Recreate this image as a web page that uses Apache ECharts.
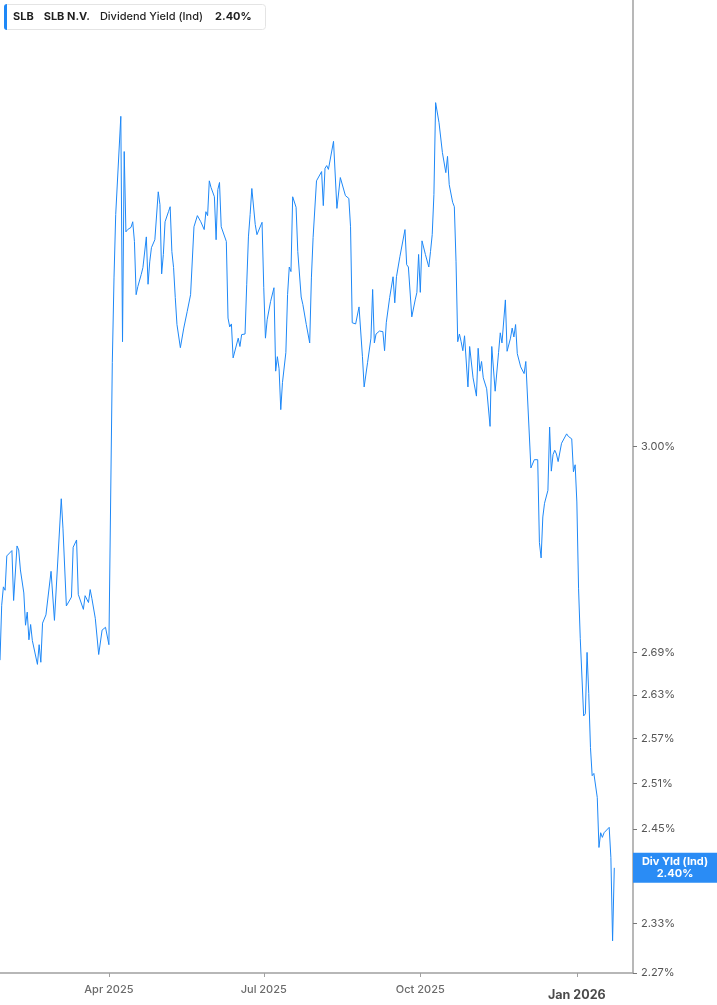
<!DOCTYPE html>
<html>
<head>
<meta charset="utf-8">
<script src="https://cdn.jsdelivr.net/npm/echarts@6/dist/echarts.min.js"></script>
<style>
html,body{margin:0;padding:0;background:#fff;}
#chart{width:717px;height:1005px;}
</style>
</head>
<body>
<div id="chart"></div>
<script>
const dates = [
'2025-01-27','2025-01-28','2025-01-29','2025-01-30','2025-01-31','2025-02-03','2025-02-04','2025-02-06','2025-02-07','2025-02-08',
'2025-02-10','2025-02-11','2025-02-12','2025-02-13','2025-02-14','2025-02-15','2025-02-18','2025-02-19','2025-02-20','2025-02-21',
'2025-02-23','2025-02-26','2025-02-28','2025-03-04','2025-03-05','2025-03-07','2025-03-10','2025-03-11','2025-03-13','2025-03-14',
'2025-03-17','2025-03-18','2025-03-19','2025-03-20','2025-03-21','2025-03-22','2025-03-24','2025-03-26','2025-03-28','2025-03-30',
'2025-04-01','2025-04-02','2025-04-03','2025-04-04','2025-04-05','2025-04-08','2025-04-09','2025-04-10','2025-04-11','2025-04-12',
'2025-04-14','2025-04-15','2025-04-16','2025-04-17','2025-04-18','2025-04-20','2025-04-21','2025-04-22','2025-04-23','2025-04-24',
'2025-04-25','2025-04-26','2025-04-28','2025-04-29','2025-04-30','2025-05-01','2025-05-02','2025-05-03','2025-05-04','2025-05-06',
'2025-05-07','2025-05-08','2025-05-09','2025-05-10','2025-05-11','2025-05-13','2025-05-15','2025-05-16','2025-05-17','2025-05-19',
'2025-05-21','2025-05-23','2025-05-25','2025-05-27','2025-05-28','2025-05-29','2025-05-30','2025-05-31','2025-06-02','2025-06-03',
'2025-06-04','2025-06-05','2025-06-06','2025-06-09','2025-06-10','2025-06-11','2025-06-12','2025-06-13','2025-06-16','2025-06-17',
'2025-06-18','2025-06-20','2025-06-21','2025-06-22','2025-06-23','2025-06-24','2025-06-26','2025-06-27','2025-06-30','2025-07-01',
'2025-07-02','2025-07-03','2025-07-05','2025-07-07','2025-07-08','2025-07-09','2025-07-10','2025-07-11','2025-07-12','2025-07-14',
'2025-07-15','2025-07-16','2025-07-17','2025-07-18','2025-07-20','2025-07-21','2025-07-23','2025-07-24','2025-07-26','2025-07-28',
'2025-07-29','2025-07-30','2025-08-01','2025-08-04','2025-08-05','2025-08-06','2025-08-07','2025-08-08','2025-08-11','2025-08-13',
'2025-08-15','2025-08-18','2025-08-20','2025-08-21','2025-08-22','2025-08-24','2025-08-26','2025-08-28','2025-08-29','2025-08-31',
'2025-09-02','2025-09-03','2025-09-04','2025-09-05','2025-09-07','2025-09-09','2025-09-10','2025-09-11','2025-09-13','2025-09-15',
'2025-09-16','2025-09-17','2025-09-18','2025-09-19','2025-09-22','2025-09-23','2025-09-24','2025-09-25','2025-09-26','2025-09-28',
'2025-09-29','2025-09-30','2025-10-01','2025-10-02','2025-10-04','2025-10-06','2025-10-07','2025-10-08','2025-10-09','2025-10-10',
'2025-10-12','2025-10-14','2025-10-15','2025-10-16','2025-10-17','2025-10-18','2025-10-20','2025-10-21','2025-10-22','2025-10-23',
'2025-10-24','2025-10-25','2025-10-26','2025-10-27','2025-10-29','2025-10-30','2025-11-01','2025-11-03','2025-11-04','2025-11-05',
'2025-11-06','2025-11-07','2025-11-09','2025-11-11','2025-11-12','2025-11-14','2025-11-16','2025-11-17','2025-11-18','2025-11-20',
'2025-11-21','2025-11-23','2025-11-24','2025-11-25','2025-11-26','2025-11-27','2025-11-29','2025-12-01','2025-12-02','2025-12-05',
'2025-12-07','2025-12-08','2025-12-09','2025-12-10','2025-12-11','2025-12-12','2025-12-13','2025-12-15','2025-12-16','2025-12-17',
'2025-12-18','2025-12-19','2025-12-20','2025-12-21','2025-12-23','2025-12-26','2025-12-27','2025-12-29','2025-12-30','2025-12-31',
'2026-01-01','2026-01-02','2026-01-03','2026-01-05','2026-01-06','2026-01-07','2026-01-08','2026-01-09','2026-01-10','2026-01-11',
'2026-01-12','2026-01-13','2026-01-14','2026-01-15','2026-01-16','2026-01-17','2026-01-20','2026-01-21','2026-01-22','2026-01-23'
];
const yields = [
2.679,2.758,2.785,2.780,2.831,2.839,2.765,2.846,2.840,2.810,
2.776,2.729,2.748,2.708,2.730,2.707,2.673,2.701,2.676,2.732,
2.744,2.808,2.736,2.918,2.873,2.757,2.770,2.844,2.855,2.774,
2.752,2.772,2.774,2.762,2.781,2.768,2.739,2.687,2.722,2.726,
2.701,2.701,3.136,3.280,3.392,3.573,3.171,3.507,3.361,3.365,
3.369,3.379,3.344,3.251,3.265,3.286,3.298,3.298,3.352,3.269,
3.308,3.333,3.347,3.347,3.433,3.410,3.287,3.321,3.379,3.397,
3.406,3.326,3.298,3.246,3.200,3.161,3.194,3.191,3.222,3.251,
3.370,3.390,3.379,3.365,3.397,3.390,3.453,3.441,3.424,3.347,
3.437,3.450,3.370,3.344,3.211,3.196,3.201,3.144,3.177,3.163,
3.183,3.184,3.269,3.352,3.392,3.439,3.374,3.356,3.378,3.263,
3.177,3.208,3.239,3.263,3.122,3.146,3.126,3.059,3.103,3.153,
3.251,3.299,3.291,3.424,3.405,3.326,3.247,3.234,3.200,3.169,
3.280,3.351,3.453,3.470,3.408,3.476,3.481,3.474,3.526,3.403,
3.459,3.426,3.421,3.370,3.203,3.201,3.230,3.146,3.096,3.136,
3.177,3.260,3.169,3.184,3.189,3.188,3.156,3.203,3.246,3.282,
3.237,3.282,3.284,3.317,3.365,3.303,3.299,3.299,3.213,3.242,
3.255,3.321,3.255,3.345,3.321,3.299,3.326,3.356,3.428,3.599,
3.561,3.505,3.505,3.468,3.498,3.446,3.414,3.406,3.308,3.171,
3.184,3.171,3.156,3.181,3.096,3.163,3.111,3.081,3.160,3.122,
3.138,3.111,3.093,3.032,3.163,3.089,3.153,3.186,3.169,3.242,
3.155,3.177,3.194,3.179,3.200,3.151,3.129,3.118,3.138,2.966,
2.979,2.982,2.979,2.851,2.828,2.890,2.911,2.931,3.031,2.961,
2.987,2.994,2.988,2.976,3.005,3.020,3.016,3.012,2.960,2.971,
2.913,2.783,2.710,2.601,2.604,2.690,2.632,2.558,2.520,2.523,
2.523,2.491,2.426,2.445,2.439,2.445,2.452,2.413,2.309,2.400
];
const yTicks = [2.27, 2.33, 2.39, 2.45, 2.51, 2.57, 2.63, 2.69, 3.00];
const xTickDates = ['2025-04-01', '2025-07-01', '2025-10-01', '2026-01-01'];
const xTickLabels = ['Apr 2025', 'Jul 2025', 'Oct 2025', 'Jan 2026'];
const xRange = ['2025-01-27', '2026-02-03'];
const currentValue = 2.40;
const seriesTicker = 'SLB';
const seriesName = 'SLB N.V.';
const metricName = 'Dividend Yield (Ind)';
const shortName = 'Div Yld (Ind)';

const FONT = 'Inter, "Noto Sans", sans-serif';
const LINE = '#1e88f7';
const ts = s => Date.parse(s + 'T00:00:00Z');
const chart = echarts.init(document.getElementById('chart'), null, {renderer: 'canvas'});
const seriesData = dates.map((d, i) => [ts(d), yields[i]]);
const xTickTs = xTickDates.map(ts);

chart.setOption({
  animation: false,
  textStyle: {fontFamily: FONT},
  title: {
    left: 4, top: 4,
    padding: [0, 14, 0, 0],
    backgroundColor: '#fff',
    borderColor: '#e4e4e4', borderWidth: 1, borderRadius: 3,
    text: '{bar|}{b|' + seriesTicker + '}{b2|' + seriesName + '}{n|' + metricName + '}{b3|' + currentValue.toFixed(2) + '%}',
    textStyle: {
      fontFamily: FONT,
      rich: {
        bar: {width: 3, height: 26, backgroundColor: LINE, borderRadius: [3, 0, 0, 3]},
        b: {fontFamily: FONT, fontSize: 11, fontWeight: 'bold', color: '#1f1f1f', padding: [0, 0, 0, 6]},
        b2: {fontFamily: FONT, fontSize: 11, fontWeight: 'bold', color: '#1f1f1f', padding: [0, 0, 0, 10]},
        n: {fontFamily: FONT, fontSize: 11, fontWeight: 500, color: '#1f1f1f', padding: [0, 0, 0, 10]},
        b3: {fontFamily: FONT, fontSize: 11, fontWeight: 'bold', color: '#1f1f1f', padding: [0, 0, 0, 12]}
      }
    }
  },
  grid: {left: 0, right: 84, top: 0, bottom: 32, containLabel: false},
  xAxis: {
    type: 'value',
    min: ts(xRange[0]),
    max: ts(xRange[1]),
    axisLine: {show: true, lineStyle: {color: '#a0a0a0', width: 1.5}},
    axisTick: {show: true, customValues: xTickTs, length: 4, lineStyle: {color: '#a0a0a0'}},
    splitLine: {show: false},
    axisLabel: {
      customValues: xTickTs,
      margin: 11,
      color: '#6b6b6b',
      fontSize: 11,
      fontWeight: 500,
      fontFamily: FONT,
      formatter: function (val) {
        let idx = -1;
        xTickTs.forEach((t, i) => { if (Math.abs(t - val) < 43200000) idx = i; });
        if (idx < 0) return '';
        const lab = xTickLabels[idx];
        return lab.indexOf('Jan') === 0 ? '{y|' + lab + '}' : lab;
      },
      rich: {
        y: {fontSize: 12.5, fontWeight: 'bold', color: '#4a4a4a', fontFamily: FONT, padding: [5, 0, 0, 0]}
      }
    }
  },
  yAxis: {
    type: 'log',
    logBase: 10,
    min: 2.27,
    max: 3.80,
    position: 'right',
    axisLine: {show: true, lineStyle: {color: '#a0a0a0', width: 1.5}},
    axisTick: {show: true, customValues: yTicks, length: 4, lineStyle: {color: '#777'}},
    splitLine: {show: false},
    minorTick: {show: false},
    axisLabel: {
      customValues: yTicks,
      margin: 8,
      color: '#555',
      fontSize: 11,
      fontFamily: FONT,
      formatter: v => Number(v).toFixed(2) + '%'
    }
  },
  series: [{
    type: 'line',
    name: metricName,
    data: seriesData,
    showSymbol: false,
    symbol: 'none',
    lineStyle: {color: LINE, width: 1},
    itemStyle: {color: LINE},
    clip: true,
    z: 3,
    markLine: {
      silent: true,
      symbol: ['none', 'none'],
      animation: false,
      z: 10,
      lineStyle: {color: 'rgba(0,0,0,0)', width: 0, type: 'solid'},
      data: [{yAxis: currentValue}],
      label: {
        show: true,
        opacity: 1,
        position: 'end',
        distance: 0,
        backgroundColor: '#2a8cf5',
        padding: [3, 8, 3, 8],
        formatter: '{a|' + shortName + '}\n{a|' + currentValue.toFixed(2) + '%}',
        rich: {
          a: {width: 68, align: 'center', color: '#fff', fontWeight: 'bold', fontSize: 11, lineHeight: 12, fontFamily: FONT}
        }
      }
    }
  }]
});
</script>
</body>
</html>
